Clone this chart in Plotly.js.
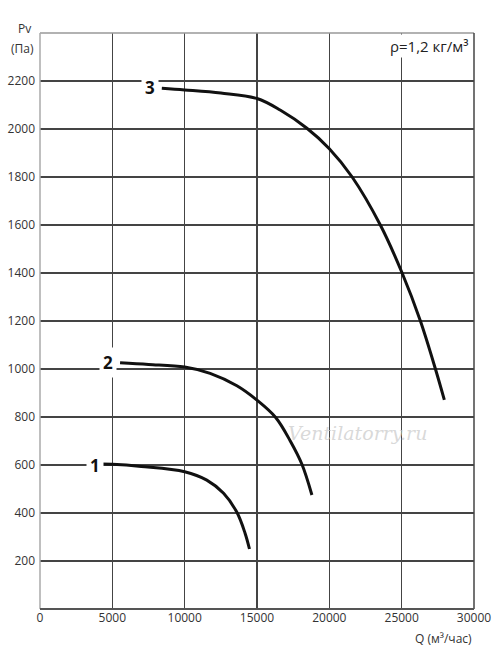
<!DOCTYPE html>
<html><head><meta charset="utf-8">
<script src="https://cdn.plot.ly/plotly-3.0.1.min.js"></script>
<style>html,body{margin:0;padding:0;background:#fff}#c{width:500px;height:662px}</style>
</head><body><div id="c"></div>
<script>
const q1 = [4270, 5000, 7000, 10000, 11530, 12690, 13610, 14180, 14480];
const p1 = [604, 603, 594, 572, 537, 482, 403, 315, 250];
const q2 = [5535, 7500, 10000, 11760, 13610, 15000, 16305, 17300, 18105, 18795];
const p2 = [1026, 1019, 1008, 982, 930, 870, 797, 700, 603, 475];
const q3 = [8420, 10000, 12500, 15000, 16600, 18450, 20000, 21565, 23525, 25025, 26290, 27330, 27950];
const p3 = [2170, 2163, 2150, 2127, 2079, 2003, 1918, 1801, 1600, 1401, 1201, 1001, 871];
const curveNames = ["1", "2", "3"];
const labelQ = [3805, 4705, 7610];
const labelP = [600, 1029, 2172];
const xTicks = [0, 5000, 10000, 15000, 20000, 25000, 30000];
const yTicks = [200, 400, 600, 800, 1000, 1200, 1400, 1600, 1800, 2000, 2200];

const font = "'Open Sans', 'DejaVu Sans', sans-serif";
const line = {color: '#111', width: 3, shape: 'spline', smoothing: 1};
const data = [
  {x: q1, y: p1, mode: 'lines', line: line, hoverinfo: 'skip'},
  {x: q2, y: p2, mode: 'lines', line: line, hoverinfo: 'skip'},
  {x: q3, y: p3, mode: 'lines', line: line, hoverinfo: 'skip'}
];
const ann = curveNames.map((n, i) => ({
  x: labelQ[i], y: labelP[i], xref: 'x', yref: 'y', text: '<b>' + n + '</b>',
  showarrow: false, bgcolor: '#fff', borderpad: 3,
  font: {family: font, size: 17, color: '#111'}
}));
ann.push(
  {xref: 'paper', yref: 'paper', x: -0.035, y: 1.0, yshift: 5, xanchor: 'center', yanchor: 'middle',
   text: 'Pv', showarrow: false, font: {family: font, size: 12, color: '#333'}},
  {xref: 'paper', yref: 'paper', x: -0.01, y: 1.0, yshift: -5, xanchor: 'right', yanchor: 'top',
   text: '(Па)', showarrow: false, font: {family: font, size: 12, color: '#333'}},
  {xref: 'paper', yref: 'paper', x: 1.0, y: 0, yshift: -19, xanchor: 'right', yanchor: 'top',
   text: 'Q (м³/час)', showarrow: false, font: {family: font, size: 12, color: '#333'}},
  {xref: 'paper', yref: 'paper', x: 0.99, y: 1.0, yshift: -1, xanchor: 'right', yanchor: 'top',
   text: 'ρ=1,2 кг/м³', showarrow: false, bgcolor: '#fff', font: {family: font, size: 15, color: '#222'}},
  {xref: 'x', yref: 'y', x: 21930, y: 733, text: '<i>Ventilatorry.ru</i>', showarrow: false,
   font: {family: "'DejaVu Serif', serif", size: 19, color: 'rgba(200,200,200,0.7)'}}
);
const layout = {
  width: 500, height: 662,
  margin: {l: 40, r: 26, t: 33, b: 53},
  paper_bgcolor: '#fff', plot_bgcolor: '#fff',
  showlegend: false,
  xaxis: {range: [0, 30000], tickvals: xTicks, ticktext: xTicks.map(String),
    showgrid: true, gridcolor: '#444', gridwidth: 1.5, zeroline: false,
    showline: false, ticks: '', tickfont: {family: font, size: 12, color: '#333'}, fixedrange: true},
  yaxis: {range: [0, 2400], tickvals: yTicks, ticktext: yTicks.map(String),
    showgrid: true, gridcolor: '#444', gridwidth: 1.5, zeroline: false,
    showline: false, ticks: '', ticklabelstandoff: 4, tickfont: {family: font, size: 12, color: '#333'}, fixedrange: true},
  shapes: [
    {type: 'line', xref: 'paper', yref: 'paper', x0: 0, x1: 1, y0: 1, y1: 1, line: {color: '#999', width: 1.5}},
    {type: 'line', xref: 'paper', yref: 'paper', x0: 0, x1: 0, y0: 0, y1: 1, line: {color: '#aaa', width: 1.5}},
    {type: 'line', xref: 'paper', yref: 'paper', x0: 1, x1: 1, y0: 0, y1: 1, line: {color: '#444', width: 1.5}},
    {type: 'line', xref: 'paper', yref: 'paper', x0: 0, x1: 1, y0: 0, y1: 0, line: {color: '#555', width: 2}}
  ],
  annotations: ann
};
Plotly.newPlot('c', data, layout, {staticPlot: true, displayModeBar: false});
</script></body></html>
